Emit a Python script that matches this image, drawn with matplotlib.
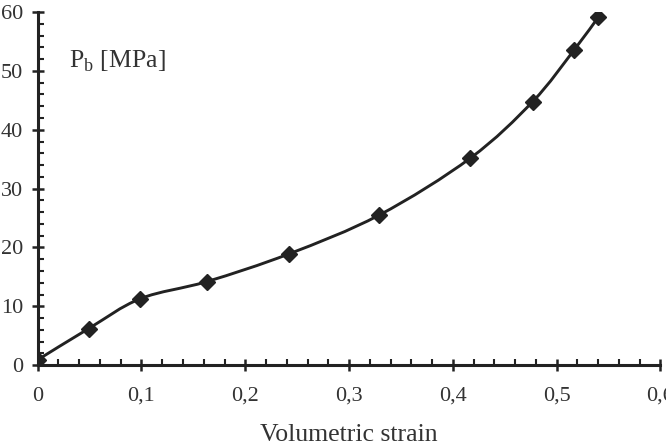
import matplotlib

matplotlib.use("Agg")
import matplotlib.pyplot as plt
import numpy as np
from matplotlib.patches import PathPatch
from matplotlib.path import Path
from matplotlib.ticker import FuncFormatter, MultipleLocator

# Volumetric strain vs. breakdown pressure P_b.
strain = [0.0, 0.049, 0.099, 0.163, 0.242, 0.329, 0.417, 0.477, 0.517, 0.540]
pressure = [0.9, 6.2, 11.3, 14.2, 18.9, 25.5, 35.2, 44.8, 53.6, 59.1]

x_ticks = [0.0, 0.1, 0.2, 0.3, 0.4, 0.5, 0.6]
y_ticks = [0, 10, 20, 30, 40, 50, 60]

INK = "#222222"
TEXT = "#333333"

plt.rcParams["font.family"] = ["Liberation Serif", "DejaVu Serif"]
plt.rcParams["mathtext.fontset"] = "custom"
plt.rcParams["mathtext.rm"] = "Liberation Serif"


def smooth_path(xs, ys, tension=1 / 6):
    """Catmull-Rom style Bezier path through the points (like a 'smoothed line')."""
    pts = np.column_stack([xs, ys])
    verts = [pts[0]]
    codes = [Path.MOVETO]
    n = len(pts)
    for i in range(n - 1):
        p0 = pts[max(i - 1, 0)]
        p1 = pts[i]
        p2 = pts[i + 1]
        p3 = pts[min(i + 2, n - 1)]
        c1 = p1 + (p2 - p0) * tension
        c2 = p2 - (p3 - p1) * tension
        verts += [c1, c2, p2]
        codes += [Path.CURVE4] * 3
    return Path(verts, codes)


def comma(v, _pos):
    if abs(v) < 1e-9:
        return "0"
    return f"{v:.1f}".replace(".", ",")


fig = plt.figure(figsize=(6.66, 4.48), dpi=100)
ax = fig.add_axes([0.0566, 0.185, 0.935, 0.788])

ax.add_patch(PathPatch(smooth_path(strain, pressure), facecolor="none",
                       edgecolor=INK, lw=2.1, zorder=3))
ax.plot(strain, pressure, ls="none", marker="D", ms=8, color=INK, zorder=4)

ax.set_xlim(0, 0.6)
ax.set_ylim(0, 60)
ax.set_xticks(x_ticks)
ax.set_yticks(y_ticks)
ax.xaxis.set_major_formatter(FuncFormatter(comma))
ax.xaxis.set_minor_locator(MultipleLocator(0.02))
ax.yaxis.set_minor_locator(MultipleLocator(2))

for side in ("top", "right"):
    ax.spines[side].set_visible(False)
for side in ("left", "bottom"):
    ax.spines[side].set_linewidth(2.2)
    ax.spines[side].set_color(INK)
    ax.spines[side].set_clip_on(False)

ax.tick_params(which="major", direction="inout", length=9, width=1.8,
               color=INK, labelsize=16, labelcolor=TEXT)
ax.tick_params(which="minor", direction="in", length=4, width=1.5, color=INK)
ax.tick_params(axis="x", which="major", pad=11)
ax.tick_params(axis="y", which="major", pad=6)

ax.set_xlabel("Volumetric strain", fontsize=18.5, color=TEXT, labelpad=13)
ax.text(0.050, 0.862, r"P$_\mathrm{b}$ [MPa]", transform=ax.transAxes,
        fontsize=18.5, color=TEXT, va="center", ha="left")

fig.savefig("out.png", dpi=100)
